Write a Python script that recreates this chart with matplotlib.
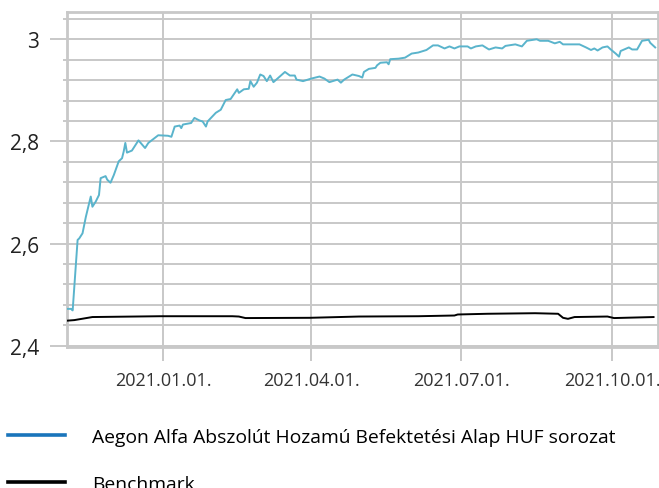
import matplotlib
matplotlib.use("Agg")
import matplotlib.pyplot as plt
import matplotlib.dates as mdates
from matplotlib.lines import Line2D
from matplotlib.ticker import MultipleLocator, FuncFormatter
import pandas as pd

# fund series (date, value)
fund_dates = [
    "2020-11-04", "2020-11-06", "2020-11-07", "2020-11-09", "2020-11-10", "2020-11-11",
    "2020-11-13", "2020-11-15", "2020-11-18", "2020-11-19", "2020-11-21", "2020-11-23",
    "2020-11-24", "2020-11-27", "2020-11-28", "2020-11-30", "2020-12-02", "2020-12-05",
    "2020-12-07", "2020-12-08", "2020-12-09", "2020-12-10", "2020-12-13", "2020-12-17",
    "2020-12-21", "2020-12-23", "2020-12-29", "2021-01-03", "2021-01-04", "2021-01-06",
    "2021-01-08", "2021-01-11", "2021-01-12", "2021-01-13", "2021-01-18", "2021-01-20",
    "2021-01-23", "2021-01-25", "2021-01-27", "2021-01-28", "2021-02-02", "2021-02-05",
    "2021-02-08", "2021-02-11", "2021-02-15", "2021-02-16", "2021-02-19", "2021-02-22",
    "2021-02-23", "2021-02-25", "2021-02-27", "2021-03-01", "2021-03-03", "2021-03-05",
    "2021-03-07", "2021-03-09", "2021-03-16", "2021-03-19", "2021-03-22", "2021-03-23",
    "2021-03-27", "2021-04-01", "2021-04-06", "2021-04-09", "2021-04-12", "2021-04-14",
    "2021-04-17", "2021-04-19", "2021-04-21", "2021-04-26", "2021-04-30", "2021-05-02",
    "2021-05-03", "2021-05-06", "2021-05-10", "2021-05-11", "2021-05-13", "2021-05-17",
    "2021-05-18", "2021-05-19", "2021-05-24", "2021-05-28", "2021-06-01", "2021-06-05",
    "2021-06-10", "2021-06-14", "2021-06-17", "2021-06-21", "2021-06-24", "2021-06-27",
    "2021-06-30", "2021-07-05", "2021-07-07", "2021-07-10", "2021-07-14", "2021-07-17",
    "2021-07-18", "2021-07-22", "2021-07-26", "2021-07-28", "2021-08-03", "2021-08-07",
    "2021-08-10", "2021-08-16", "2021-08-18", "2021-08-23", "2021-08-27", "2021-08-30",
    "2021-09-01", "2021-09-06", "2021-09-11", "2021-09-15", "2021-09-18", "2021-09-20",
    "2021-09-22", "2021-09-25", "2021-09-28", "2021-09-30", "2021-10-03", "2021-10-05",
    "2021-10-06", "2021-10-11", "2021-10-13", "2021-10-16", "2021-10-19", "2021-10-23",
    "2021-10-24", "2021-10-27",
]
fund_values = [
    2.472, 2.472, 2.469, 2.561, 2.607, 2.610,
    2.620, 2.652, 2.692, 2.672, 2.682, 2.695,
    2.728, 2.732, 2.725, 2.719, 2.734, 2.761,
    2.767, 2.780, 2.797, 2.778, 2.782, 2.802,
    2.787, 2.797, 2.812, 2.811, 2.811, 2.809,
    2.829, 2.831, 2.826, 2.833, 2.836, 2.846,
    2.841, 2.839, 2.829, 2.839, 2.856, 2.862,
    2.881, 2.883, 2.902, 2.895, 2.902, 2.903,
    2.918, 2.907, 2.915, 2.931, 2.928, 2.918,
    2.929, 2.916, 2.936, 2.929, 2.929, 2.921,
    2.918, 2.923, 2.927, 2.923, 2.916, 2.918,
    2.921, 2.915, 2.921, 2.931, 2.928, 2.925,
    2.936, 2.942, 2.944, 2.949, 2.954, 2.955,
    2.951, 2.961, 2.962, 2.964, 2.972, 2.974,
    2.979, 2.988, 2.988, 2.982, 2.986, 2.982,
    2.986, 2.986, 2.982, 2.986, 2.988, 2.982,
    2.980, 2.984, 2.982, 2.987, 2.990, 2.986,
    2.997, 3.000, 2.997, 2.997, 2.992, 2.995,
    2.990, 2.990, 2.990, 2.984, 2.979, 2.982,
    2.978, 2.984, 2.986, 2.980, 2.972, 2.966,
    2.977, 2.984, 2.980, 2.980, 2.997, 2.999,
    2.993, 2.984,
]

# benchmark series
bench_dates = [
    "2020-11-04", "2020-11-08", "2020-11-19", "2020-12-30", "2021-02-12", "2021-02-16",
    "2021-02-20", "2021-03-31", "2021-04-30", "2021-06-05", "2021-06-27", "2021-06-29",
    "2021-07-17", "2021-08-15", "2021-08-29", "2021-09-01", "2021-09-04", "2021-09-08",
    "2021-09-28", "2021-10-02", "2021-10-26",
]
bench_values = [
    2.449, 2.450, 2.456, 2.4576, 2.4576, 2.457,
    2.454, 2.4545, 2.457, 2.4576, 2.459, 2.461,
    2.4624, 2.4635, 2.4624, 2.4545, 2.4525, 2.456,
    2.457, 2.454, 2.456,
]

tick_dates = ["2021-01-01", "2021-04-01", "2021-07-01", "2021-10-01"]
fund_label = "Aegon Alfa Abszolút Hozamú Befektetési Alap HUF sorozat"
bench_label = "Benchmark"

plt.rcParams['font.family'] = ['Open Sans', 'DejaVu Sans']

fig = plt.figure(figsize=(6.59, 4.89), dpi=100)
ax = fig.add_axes([0.101, 0.288, 0.898, 0.685])

grid_col = '#c8c8c8'
ax.plot(pd.to_datetime(fund_dates), fund_values, color='#5ab4cc', lw=1.4, zorder=3)
ax.plot(pd.to_datetime(bench_dates), bench_values, color='black', lw=1.4, zorder=3)

ax.set_xlim(pd.Timestamp("2020-11-03 07:00"), pd.Timestamp("2021-10-28 22:00"))
ax.set_ylim(2.397, 3.053)

ax.set_xticks(pd.to_datetime(tick_dates))
ax.xaxis.set_major_formatter(mdates.DateFormatter('%Y.%m.%d.'))
ax.yaxis.set_major_locator(MultipleLocator(0.2))
ax.yaxis.set_minor_locator(MultipleLocator(0.04))
ax.yaxis.set_major_formatter(FuncFormatter(lambda v, p: ('%g' % round(v, 2)).replace('.', ',')))

ax.grid(True, which='both', axis='y', color=grid_col, lw=1.4)
ax.grid(True, which='major', axis='x', color=grid_col, lw=1.4)
for s in ax.spines.values():
    s.set_color(grid_col)
    s.set_linewidth(2)

ax.tick_params(axis='y', which='major', length=12, width=1.4, color=grid_col,
               labelsize=15, labelcolor='#222222', pad=8)
ax.tick_params(axis='y', which='minor', length=3, width=1.4, color=grid_col)
ax.tick_params(axis='x', which='major', length=10, width=1.4, color=grid_col,
               labelsize=13.0, labelcolor='#333333', pad=7)

handles = [Line2D([], [], color='#1a75bb', lw=2.6), Line2D([], [], color='black', lw=2.6)]
fig.legend(handles, [fund_label, bench_label], loc='upper left',
           bbox_to_anchor=(0.012, 0.123), frameon=False, fontsize=13.9,
           handlelength=2.95, handletextpad=1.4, labelspacing=1.5,
           borderaxespad=0, borderpad=0)

fig.savefig('out.png', dpi=100)
